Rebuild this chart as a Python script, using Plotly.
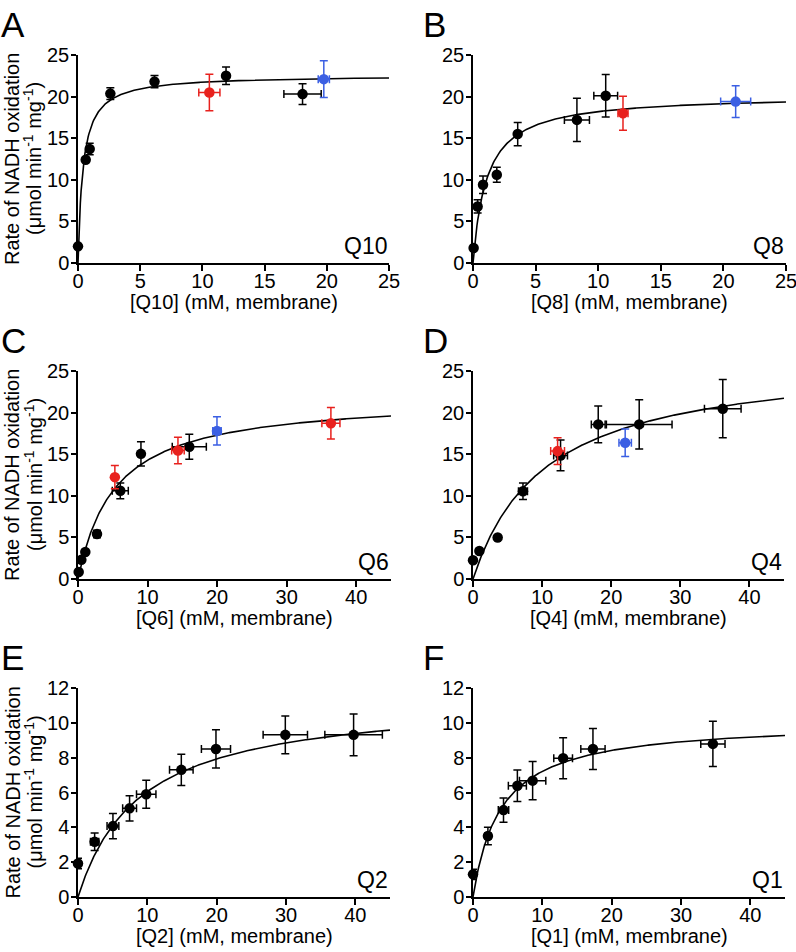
import numpy as np
import plotly.graph_objects as go

W, H = 796, 952
FONT = "Arial, Liberation Sans, Helvetica, sans-serif"
RED = "#e8211d"
BLUE = "#3b5fe3"

# ---------------- data ----------------
# Panel A : Q10
a_x = [0.0, 0.62, 0.94, 2.6, 6.15, 11.9, 18.05]
a_y = [2.0, 12.4, 13.7, 20.36, 21.8, 22.5, 20.3]
a_ey = [0, 0, 0.7, 0.7, 0.75, 1.05, 1.25]
a_ex = [0, 0, 0, 0, 0, 0, 1.5]
a_red_x, a_red_y, a_red_ey, a_red_ex = [10.56], [20.5], [2.2], [0.85]
a_blue_x, a_blue_y, a_blue_ey, a_blue_ex = [19.76], [22.1], [2.2], [0.45]

# Panel B : Q8
b_x = [0.05, 0.37, 0.8, 1.9, 3.57, 8.3, 10.6]
b_y = [1.8, 6.8, 9.4, 10.6, 15.5, 17.2, 20.1]
b_ey = [0, 0.8, 1.05, 0.9, 1.4, 2.6, 2.55]
b_ex = [0, 0, 0, 0, 0, 1.0, 0.95]
b_red_x, b_red_y, b_red_ey, b_red_ex = [11.98], [18.0], [2.05], [0.4]
b_blue_x, b_blue_y, b_blue_ey, b_blue_ex = [20.98], [19.4], [1.9], [1.2]

# Panel C : Q6
c_x = [0.1, 0.48, 1.05, 2.73, 6.08, 9.05, 16.0]
c_y = [0.84, 2.3, 3.24, 5.4, 10.6, 15.04, 15.9]
c_ey = [0, 0, 0, 0.45, 0.95, 1.45, 1.5]
c_ex = [0, 0, 0, 0, 1.15, 0, 2.45]
c_red_x, c_red_y = [5.3, 14.37, 36.36], [12.24, 15.44, 18.72]
c_red_ey, c_red_ex = [1.4, 1.6, 1.9], [0.3, 0.9, 1.3]
c_blue_x, c_blue_y, c_blue_ey, c_blue_ex = [19.98], [17.8], [1.7], [0.6]

# Panel D : Q4
d_x = [0, 0.92, 3.57, 7.23, 12.67, 18.12, 24.05, 36.14]
d_y = [2.25, 3.37, 4.98, 10.55, 14.85, 18.58, 18.58, 20.47]
d_ey = [0, 0, 0, 1.0, 1.85, 2.2, 2.95, 3.5]
d_ex = [0, 0, 0, 0.65, 1.0, 1.0, 4.75, 2.65]
d_red_x, d_red_y, d_red_ey, d_red_ex = [12.24], [15.37], [1.6], [1.0]
d_blue_x, d_blue_y, d_blue_ey, d_blue_ex = [22.02], [16.37], [1.65], [0.9]

# Panel E : Q2
e_x = [0, 2.4, 5.04, 7.44, 9.84, 14.9, 19.9, 29.9, 39.75]
e_y = [1.92, 3.17, 4.07, 5.09, 5.9, 7.3, 8.5, 9.31, 9.31]
e_ey = [0.3, 0.5, 0.72, 0.72, 0.8, 0.9, 1.1, 1.08, 1.2]
e_ex = [0, 0.6, 0.85, 1.0, 1.4, 1.7, 2.1, 3.2, 4.15]

# Panel F : Q1
f_x = [0, 2.15, 4.4, 6.4, 8.6, 13.0, 17.3, 34.6]
f_y = [1.3, 3.5, 4.99, 6.39, 6.68, 7.97, 8.5, 8.79]
f_ey = [0.3, 0.5, 0.7, 0.9, 1.1, 1.18, 1.18, 1.3]
f_ex = [0, 0.4, 0.75, 1.3, 1.9, 1.35, 1.75, 1.75]

# Michaelis-Menten fit parameters (Vmax, Km) for each panel
fit_vmax = [22.6, 20.2, 21.93, 26.8, 11.5, 10.1]
fit_km = [0.4, 1.1, 5.36, 10.5, 9.0, 4.0]

panel_letters = ["A", "B", "C", "D", "E", "F"]
panel_labels = ["Q10", "Q8", "Q6", "Q4", "Q2", "Q1"]
x_titles = ["[Q10] (mM, membrane)", "[Q8] (mM, membrane)", "[Q6] (mM, membrane)",
            "[Q4] (mM, membrane)", "[Q2] (mM, membrane)", "[Q1] (mM, membrane)"]
x_max = [25, 25, 45, 45, 45, 45]
x_dtick = [5, 5, 10, 10, 10, 10]
y_max = [25, 25, 25, 25, 12, 12]
y_dtick = [5, 5, 5, 5, 2, 2]

# ---------------- layout geometry (pixels) ----------------
# (left, right, top, bottom) of each plot area
boxes = [(78, 389, 55, 263), (473, 786, 55, 263),
         (78, 391, 371, 579), (473, 784, 371, 579),
         (78, 390, 688, 897), (473, 785, 688, 897)]


def fx(p):
    return p / W


def fy(p):
    return 1 - p / H


black_sets = [(a_x, a_y, a_ex, a_ey), (b_x, b_y, b_ex, b_ey), (c_x, c_y, c_ex, c_ey),
              (d_x, d_y, d_ex, d_ey), (e_x, e_y, e_ex, e_ey), (f_x, f_y, f_ex, f_ey)]
red_sets = [(a_red_x, a_red_y, a_red_ex, a_red_ey), (b_red_x, b_red_y, b_red_ex, b_red_ey),
            (c_red_x, c_red_y, c_red_ex, c_red_ey), (d_red_x, d_red_y, d_red_ex, d_red_ey),
            None, None]
blue_sets = [(a_blue_x, a_blue_y, a_blue_ex, a_blue_ey), (b_blue_x, b_blue_y, b_blue_ex, b_blue_ey),
             (c_blue_x, c_blue_y, c_blue_ex, c_blue_ey), (d_blue_x, d_blue_y, d_blue_ex, d_blue_ey),
             None, None]

fig = go.Figure()


def add_points(i, s, color):
    xs, ys, exs, eys = s
    sfx = "" if i == 0 else str(i + 1)
    fig.add_trace(go.Scatter(
        x=xs, y=ys, mode="markers", xaxis="x" + sfx, yaxis="y" + sfx,
        marker=dict(color=color, size=10.5, line=dict(width=0)),
        error_y=dict(type="data", array=eys, visible=True, color=color, thickness=1.5, width=4),
        error_x=dict(type="data", array=exs, visible=True, color=color, thickness=1.5, width=4),
        cliponaxis=False, showlegend=False, hoverinfo="x+y"))


for i in range(6):
    sfx = "" if i == 0 else str(i + 1)
    xc = np.linspace(0, x_max[i], 400)
    yc = fit_vmax[i] * xc / (fit_km[i] + xc)
    fig.add_trace(go.Scatter(x=xc, y=yc, mode="lines", xaxis="x" + sfx, yaxis="y" + sfx,
                             line=dict(color="black", width=1.6), showlegend=False,
                             hoverinfo="skip", cliponaxis=False))
    add_points(i, black_sets[i], "black")
    if red_sets[i] is not None:
        add_points(i, red_sets[i], RED)
    if blue_sets[i] is not None:
        add_points(i, blue_sets[i], BLUE)

layout = dict(width=W, height=H,
              margin=dict(l=0, r=0, t=0, b=0, pad=0, autoexpand=False),
              paper_bgcolor="white", plot_bgcolor="white",
              font=dict(family=FONT, color="black"), showlegend=False)

axis_common = dict(showline=True, linecolor="black", linewidth=1.5, ticks="outside",
                   tickwidth=1.5, tickcolor="black", showgrid=False,
                   zeroline=False, tickfont=dict(size=20, family=FONT, color="black"),
                   fixedrange=True, automargin=False, ticklabeloverflow="allow")

annotations = []
for i, (l, r, t, b) in enumerate(boxes):
    sfx = "" if i == 0 else str(i + 1)
    layout["xaxis" + sfx] = dict(axis_common, domain=[fx(l), fx(r)], anchor="y" + sfx,
                                 range=[0, x_max[i]], dtick=x_dtick[i], tick0=0,
                                 ticklen=6, ticklabelstandoff=-7)
    layout["yaxis" + sfx] = dict(axis_common, domain=[fy(b), fy(t)], anchor="x" + sfx,
                                 range=[0, y_max[i]], dtick=y_dtick[i], tick0=0,
                                 ticklen=5, ticklabelstandoff=-2)
    cx = (l + r) / 2
    # x-axis title
    annotations.append(dict(text=x_titles[i], xref="paper", yref="paper",
                            x=fx(cx), y=fy(b + 39), xanchor="center", yanchor="middle",
                            showarrow=False, font=dict(size=20, family=FONT)))
    # series label (Q10 ...)
    annotations.append(dict(text=panel_labels[i], xref="paper", yref="paper",
                            x=fx(r), y=fy(b - 17), xanchor="right", yanchor="middle",
                            showarrow=False, font=dict(size=23, family=FONT)))
    # panel letter
    lx = -1 if l < 200 else 421
    annotations.append(dict(text=panel_letters[i], xref="paper", yref="paper",
                            x=fx(lx), y=fy(t - 31), xanchor="left", yanchor="middle",
                            showarrow=False, font=dict(size=35, family=FONT)))
    # y-axis title (left column only)
    if l < 200:
        cy = (t + b) / 2
        annotations.append(dict(text="Rate of NADH oxidation", xref="paper", yref="paper",
                                x=fx(12), y=fy(cy), xanchor="center", yanchor="middle",
                                textangle=-90, showarrow=False, font=dict(size=20, family=FONT)))
        annotations.append(dict(text="(\u03bcmol min<sup>-1</sup> mg<sup>-1</sup>)",
                                xref="paper", yref="paper",
                                x=fx(33), y=fy(cy), xanchor="center", yanchor="middle",
                                textangle=-90, showarrow=False, font=dict(size=20, family=FONT)))

layout["annotations"] = annotations
fig.update_layout(**layout)
fig.write_html("out.html", config={"displayModeBar": False},
               post_script="document.body.style.margin='0';document.body.style.overflow='hidden';")
